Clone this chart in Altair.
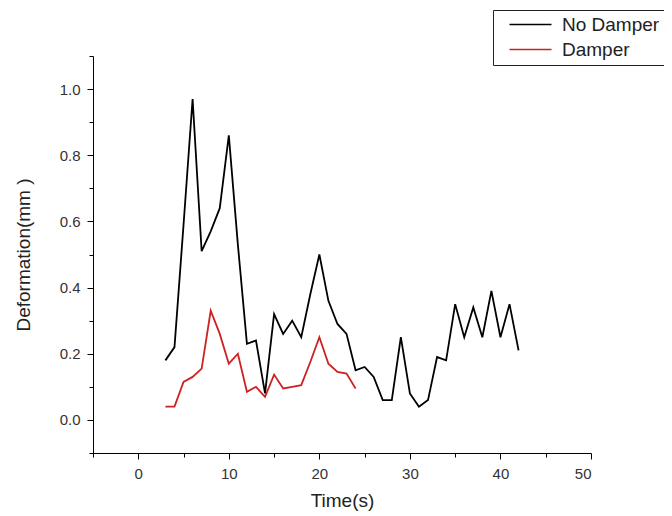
import altair as alt
import pandas as pd

# ---- data ----
time_no_damper = list(range(3, 43))
no_damper = [0.18, 0.22, 0.59, 0.97, 0.51, 0.57, 0.64, 0.86, 0.53, 0.23,
             0.24, 0.08, 0.32, 0.26, 0.30, 0.25, 0.38, 0.50, 0.36, 0.29,
             0.26, 0.15, 0.16, 0.13, 0.06, 0.06, 0.25, 0.08, 0.04, 0.06,
             0.19, 0.18, 0.35, 0.25, 0.34, 0.25, 0.39, 0.25, 0.35, 0.21]

time_damper = list(range(3, 25))
damper = [0.04, 0.04, 0.115, 0.13, 0.155, 0.33, 0.26, 0.17, 0.20, 0.085,
          0.10, 0.07, 0.137, 0.095, 0.10, 0.105, 0.175, 0.25, 0.17, 0.145,
          0.14, 0.095]

series_names = ["No Damper", "Damper"]
series_colors = ["#000000", "#cc2222"]

x_ticks = list(range(-5, 51, 5))
y_ticks = [round(-0.1 + 0.1 * i, 1) for i in range(13)]

df = pd.concat([
    pd.DataFrame({"Time": time_no_damper, "Deformation": no_damper, "Series": series_names[0]}),
    pd.DataFrame({"Time": time_damper, "Deformation": damper, "Series": series_names[1]}),
])

FONT = "Liberation Sans"

x_axis = alt.Axis(
    values=x_ticks,
    labelExpr="datum.value % 10 === 0 ? datum.label : ''",
    tickSize={"condition": {"test": "datum.value % 10 === 0", "value": 6}, "value": 4},
    grid=False,
    domainColor="#000000",
    tickColor="#000000",
    labelColor="#333333",
    labelFont=FONT,
    labelFontSize=15,
    labelPadding=7,
    title="Time(s)",
    titleFont=FONT,
    titleFontSize=19,
    titleFontWeight="normal",
    titleColor="#222222",
    titlePadding=10,
)

y_axis = alt.Axis(
    values=y_ticks,
    labelExpr="round(datum.value * 10) % 2 === 0 ? format(datum.value, '.1f') : ''",
    tickSize={"condition": {"test": "round(datum.value * 10) % 2 === 0", "value": 6}, "value": 4},
    grid=False,
    domainColor="#000000",
    tickColor="#000000",
    labelColor="#333333",
    labelFont=FONT,
    labelFontSize=15,
    labelPadding=7,
    title="Deformation(mm )",
    titleFont=FONT,
    titleFontSize=19,
    titleFontWeight="normal",
    titleColor="#222222",
    titlePadding=26,
)

legend = alt.Legend(
    title=None,
    orient="none",
    legendX=400,
    legendY=-46,
    direction="vertical",
    symbolType="M-3,0L3,0",
    symbolSize=196,
    symbolStrokeWidth=1.5,
    symbolOffset=23,
    labelOffset=22,
    labelFont=FONT,
    labelFontSize=19,
    labelColor="#222222",
    rowPadding=5,
    padding=5,
    strokeColor="#222222",
    fillColor="#ffffff",
)

chart = alt.Chart(df).mark_line(strokeWidth=1.8).encode(
    x=alt.X("Time:Q", scale=alt.Scale(domain=[-5, 50], nice=False, zero=False), axis=x_axis),
    y=alt.Y("Deformation:Q", scale=alt.Scale(domain=[-0.1, 1.1], nice=False, zero=False), axis=y_axis),
    color=alt.Color("Series:N", scale=alt.Scale(domain=series_names, range=series_colors), legend=legend),
    detail="Series:N",
).properties(
    width=498,
    height=397,
    autosize=alt.AutoSizeParams(type="none"),
    padding={"left": 85, "top": 48, "right": 73, "bottom": 63},
    background="#ffffff",
).configure_view(strokeWidth=0)

chart.save("out.html", embed_options={"renderer": "svg", "actions": False})
